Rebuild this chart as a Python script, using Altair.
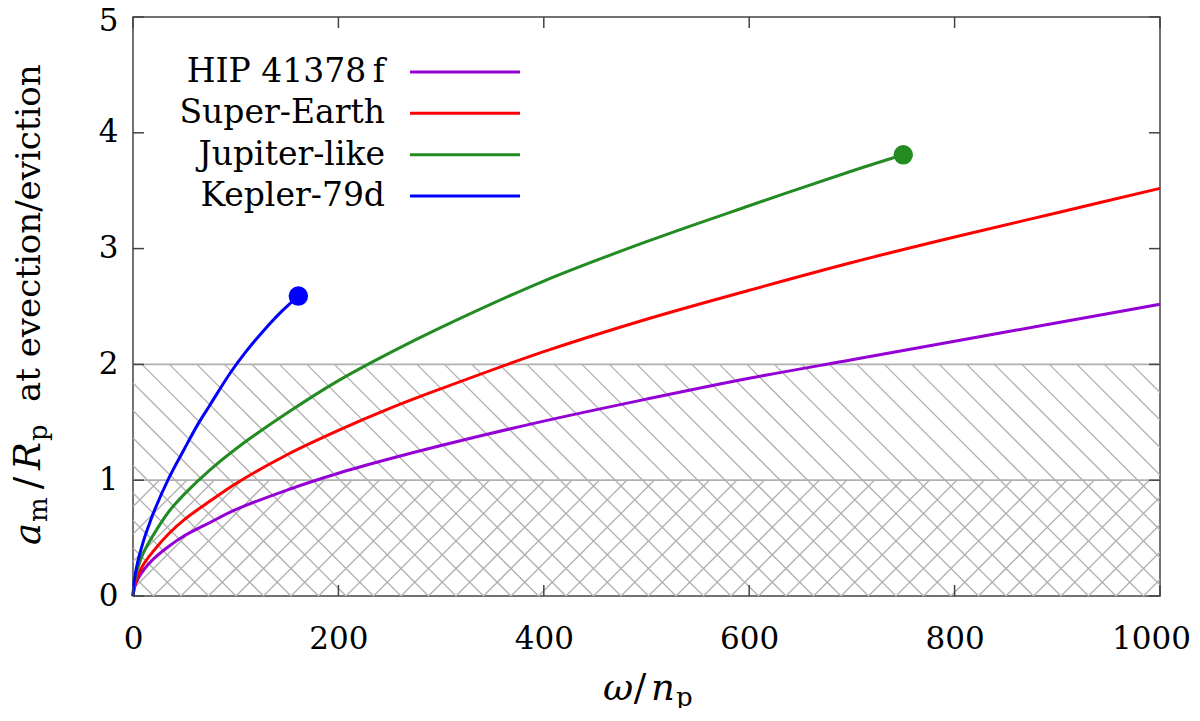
import altair as alt
import pandas as pd

# ---------------- data ----------------
omega = [0, 2, 5, 10, 20, 35, 50, 75, 100, 150, 200, 250, 300, 400, 500, 600, 700, 800, 900, 1000]
hip = [0, 0.09, 0.15, 0.22, 0.32, 0.43, 0.52, 0.635, 0.745, 0.915, 1.06, 1.185, 1.30, 1.51, 1.70, 1.88, 2.04, 2.20, 2.36, 2.52]
superearth = [0, 0.11, 0.18, 0.27, 0.39, 0.54, 0.66, 0.82, 0.97, 1.22, 1.43, 1.62, 1.79, 2.11, 2.39, 2.64, 2.88, 3.10, 3.31, 3.52]
omega_jup = [0, 2, 5, 10, 20, 35, 50, 75, 100, 150, 200, 250, 300, 400, 500, 600, 700, 750]
jupiter = [0, 0.15, 0.25, 0.37, 0.53, 0.73, 0.88, 1.09, 1.27, 1.58, 1.86, 2.10, 2.32, 2.72, 3.06, 3.37, 3.67, 3.81]
omega_kep = [0, 1, 2, 5, 10, 15, 20, 35, 50, 63, 75, 95, 110, 128, 145, 161]
kepler = [0, 0.12, 0.18, 0.31, 0.47, 0.60, 0.72, 1.02, 1.27, 1.48, 1.65, 1.93, 2.11, 2.30, 2.46, 2.59]

end_names = ["Jupiter-like", "Kepler-79d"]
end_omega = [750, 161]
end_value = [3.81, 2.59]

series_names = ["HIP 41378\u2009f", "Super-Earth", "Jupiter-like", "Kepler-79d"]
series_colors = ["#9400d3", "#ff0000", "#228b22", "#0000ff"]

x_ticks = [0, 200, 400, 600, 800, 1000]
y_ticks = [0, 1, 2, 3, 4, 5]

zone_low = [0, 1]      # cross-hatched zone, single-hatched zone (lower bounds)
zone_high = [1, 2]     # upper bounds

# ---------------- layout ----------------
FONT = "DejaVu Serif"
W, H = 1027, 579
XMAX, YMAX = 1000, 5
SX, SY = W / XMAX, H / YMAX
HATCH_SP = 27.5      # px, horizontal spacing of hatch lines
HATCH_C0 = 20.5      # px, phase
LEG_TOP, LEG_STEP = 4.525, 0.357

# ---------------- tables ----------------
rows = []
for name, xs_, ys_ in [(series_names[0], omega, hip),
                       (series_names[1], omega, superearth),
                       (series_names[2], omega_jup, jupiter),
                       (series_names[3], omega_kep, kepler)]:
    for a, b in zip(xs_, ys_):
        rows.append({"name": name, "omega": a, "value": b})
curves = pd.DataFrame(rows)
ends = pd.DataFrame({"name": end_names, "omega": end_omega, "value": end_value})


def hatch(ylo, yhi, direction):
    vlo, vhi = ylo * SY, yhi * SY
    segs = []
    for k in range(-30, 80):
        c = HATCH_C0 + k * HATCH_SP
        if direction == "back":          # u + v = c
            u0, u1 = max(0.0, c - vhi), min(float(W), c - vlo)
            if u1 - u0 > 0.3:
                segs.append((u0, c - u0, u1, c - u1))
        else:                            # u - v = c
            u0, u1 = max(0.0, c + vlo), min(float(W), c + vhi)
            if u1 - u0 > 0.3:
                segs.append((u0, u0 - c, u1, u1 - c))
    return [{"x": a / SX, "y": b / SY, "x2": c / SX, "y2": d / SY} for a, b, c, d in segs]


hatch_rows = []
hatch_rows += hatch(zone_low[0], zone_high[0], "back")
hatch_rows += hatch(zone_low[0], zone_high[0], "fwd")
hatch_rows += hatch(zone_low[1], zone_high[1], "back")
hatch_df = pd.DataFrame(hatch_rows)
bounds_df = pd.DataFrame({"y": zone_high})
legend_df = pd.DataFrame({"name": series_names,
                          "ly": [LEG_TOP - i * LEG_STEP for i in range(len(series_names))]})
xt_df = pd.DataFrame({"x": x_ticks})
yt_df = pd.DataFrame({"y": y_ticks})
one = pd.DataFrame({"k": [0]})

# ---------------- scales / axes ----------------
xs = alt.Scale(domain=[0, XMAX], nice=False, zero=False)
ys = alt.Scale(domain=[0, YMAX], nice=False, zero=False)
xaxis = alt.Axis(values=x_ticks, title=None, domain=False, ticks=False, grid=False,
                 format="d",
                 labelFont=FONT, labelFontSize=31, labelColor="black",
                 labelBaseline="alphabetic", labelPadding=52, labelFlush=False,
                 labelOverlap=False,
                 labelOffset={"condition": {"test": "datum.value == 1000", "value": -9}, "value": 0})
yaxis = alt.Axis(values=y_ticks, title=None, domain=False, ticks=False, grid=False,
                 format="d",
                 labelFont=FONT, labelFontSize=31, labelColor="black",
                 labelBaseline="middle", labelAlign="right", labelPadding=15,
                 labelFlush=False, labelOverlap=False,
                 labelOffset={"condition": {"test": "datum.value == 5", "value": 4}, "value": 0})
cscale = alt.Scale(domain=series_names, range=series_colors)

GRAY = "#b0b0b0"
FRAME = "#444444"

hatch_layer = alt.Chart(hatch_df).mark_rule(color=GRAY, strokeWidth=1.3).encode(
    x=alt.X("x:Q", scale=xs, axis=xaxis), y=alt.Y("y:Q", scale=ys, axis=yaxis),
    x2="x2:Q", y2="y2:Q")

bounds_layer = alt.Chart(bounds_df).mark_rule(color=GRAY, strokeWidth=1.8).encode(
    y=alt.Y("y:Q", scale=ys, axis=yaxis), x=alt.value(0), x2=alt.value(W))

lines = alt.Chart(curves).mark_line(strokeWidth=3, interpolate="catmull-rom").encode(
    x=alt.X("omega:Q", scale=xs, axis=xaxis),
    y=alt.Y("value:Q", scale=ys, axis=yaxis),
    color=alt.Color("name:N", scale=cscale, legend=None),
    detail="name:N",
    order="omega:Q")

points = alt.Chart(ends).mark_circle(size=380, opacity=1).encode(
    x=alt.X("omega:Q", scale=xs, axis=xaxis),
    y=alt.Y("value:Q", scale=ys, axis=yaxis),
    color=alt.Color("name:N", scale=cscale, legend=None))

TL = 11
xt_bot = alt.Chart(xt_df).mark_rule(color=FRAME, strokeWidth=1.5).encode(
    x=alt.X("x:Q", scale=xs, axis=xaxis), y=alt.value(H), y2=alt.value(H - TL))
xt_top = alt.Chart(xt_df).mark_rule(color=FRAME, strokeWidth=1.5).encode(
    x=alt.X("x:Q", scale=xs, axis=xaxis), y=alt.value(0), y2=alt.value(TL))
yt_left = alt.Chart(yt_df).mark_rule(color=FRAME, strokeWidth=1.5).encode(
    y=alt.Y("y:Q", scale=ys, axis=yaxis), x=alt.value(0), x2=alt.value(TL))
yt_right = alt.Chart(yt_df).mark_rule(color=FRAME, strokeWidth=1.5).encode(
    y=alt.Y("y:Q", scale=ys, axis=yaxis), x=alt.value(W), x2=alt.value(W - TL))

leg_text = alt.Chart(legend_df).mark_text(font=FONT, fontSize=33, align="right",
                                          baseline="middle", color="black").encode(
    x=alt.value(252), y=alt.Y("ly:Q", scale=ys, axis=yaxis), text="name:N")
leg_line = alt.Chart(legend_df).mark_rule(strokeWidth=3).encode(
    x=alt.value(277), x2=alt.value(387), y=alt.Y("ly:Q", scale=ys, axis=yaxis),
    color=alt.Color("name:N", scale=cscale, legend=None))


def label(text, x, y, size=34, italic=False, angle=0, align="left"):
    return alt.Chart(one).mark_text(text=text, font=FONT, fontSize=size,
                                    fontStyle="italic" if italic else "normal",
                                    angle=angle, align=align, baseline="alphabetic",
                                    color="black").encode(x=alt.value(x), y=alt.value(y))


YB = -93           # baseline of the rotated y title (plot-local px)
ytitle = [
    label("a", YB, 528, size=37, italic=True, angle=270),
    label("m", YB + 7, 505, size=26, angle=270),
    label("/", YB, 466, size=37, angle=270, align="center"),
    label("R", YB, 453, size=37, italic=True, angle=270),
    label("p", YB + 7, 424, size=26, angle=270),
    label("at evection/eviction", YB, 385, angle=270),
]
XB = 683
xtitle = [
    label("\u03c9", 470, XB, size=37, italic=True),
    label("/", 507, XB, size=37, align="center"),
    label("n", 518, XB, size=37, italic=True),
    label("p", 543, XB + 6, size=26),
]

chart = alt.layer(
    hatch_layer, bounds_layer, lines, points,
    xt_bot, xt_top, yt_left, yt_right,
    leg_line, leg_text, *ytitle, *xtitle
).properties(
    width=W, height=H,
    autosize=alt.AutoSizeParams(type="none"),
    padding={"left": 125, "top": 9, "right": 32, "bottom": 112},
    background="white",
).configure_view(stroke=FRAME, strokeWidth=1.5)

chart.save("out.html", embed_options={"renderer": "svg", "actions": False})
